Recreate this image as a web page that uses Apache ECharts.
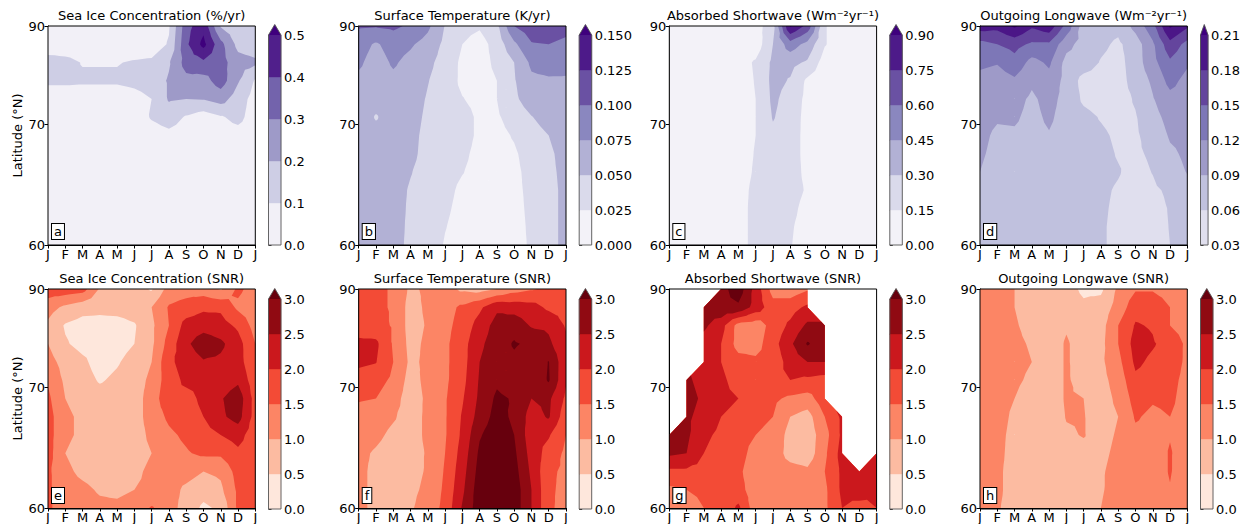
<!DOCTYPE html>
<html><head><meta charset="utf-8">
<script src="https://cdn.jsdelivr.net/npm/echarts@6/dist/echarts.min.js"></script>
<style>html,body{margin:0;padding:0;background:#fff}#c{width:1243px;height:524px}</style>
</head><body><div id="c"></div>
<script>
// ---------------- data ----------------
const MONTHS = ['J','F','M','A','M','J','J','A','S','O','N','D','J'];
// grid row latitudes, top (90N) to bottom (60N)
const LATS = [90, 81.43, 77.87, 75.13, 72.8, 70.78, 68.9, 67.2, 65.6, 64.1, 62.67, 61.31, 60];
const YTICKS = [60, 70, 90];

const TITLES = ['Sea Ice Concentration (%/yr)','Surface Temperature (K/yr)','Absorbed Shortwave (Wm\u207B\u00B2yr\u207B\u00B9)','Outgoing Longwave (Wm\u207B\u00B2yr\u207B\u00B9)',
  'Sea Ice Concentration (SNR)','Surface Temperature (SNR)','Absorbed Shortwave (SNR)','Outgoing Longwave (SNR)'];
const LETTERS = ['a','b','c','d','e','f','g','h'];

const LEVELS_SIC = [0,0.1,0.2,0.3,0.4,0.5];
const LEVELS_ST = [0,0.025,0.05,0.075,0.1,0.125,0.15];
const LEVELS_ASW = [0,0.15,0.3,0.45,0.6,0.75,0.9];
const LEVELS_OLR = [0.03,0.06,0.09,0.12,0.15,0.18,0.21];
const LEVELS_SNR = [0,0.5,1.0,1.5,2.0,2.5,3.0];

const SIC_TREND = [
[0.03,0.03,0.03,0.03,0.03,0.03,0.04,0.09,0.36,0.47,0.19,0.13,0.12],
[0.03,0.04,0.04,0.04,0.04,0.04,0.04,0.11,0.38,0.53,0.33,0.17,0.14],
[0.15,0.13,0.095,0.095,0.095,0.11,0.12,0.19,0.34,0.38,0.34,0.24,0.22],
[0.12,0.12,0.115,0.115,0.115,0.13,0.15,0.21,0.27,0.26,0.35,0.21,0.09],
[0.04,0.04,0.04,0.04,0.04,0.06,0.10,0.21,0.20,0.205,0.24,0.15,0.06],
[0.03,0.03,0.03,0.03,0.03,0.04,0.11,0.15,0.09,0.05,0.09,0.13,0.05],
[0.02,0.02,0.02,0.02,0.02,0.03,0.05,0.07,0.05,0.04,0.05,0.06,0.04],
[0.02,0.02,0.02,0.02,0.02,0.02,0.02,0.02,0.02,0.02,0.02,0.02,0.02],
[0.02,0.02,0.02,0.02,0.02,0.02,0.02,0.02,0.02,0.02,0.02,0.02,0.02],
[0.02,0.02,0.02,0.02,0.02,0.02,0.02,0.02,0.02,0.02,0.02,0.02,0.02],
[0.02,0.02,0.02,0.02,0.02,0.02,0.02,0.02,0.02,0.02,0.02,0.02,0.02],
[0.02,0.02,0.02,0.02,0.02,0.02,0.02,0.02,0.02,0.02,0.02,0.02,0.02],
[0.02,0.02,0.02,0.02,0.02,0.02,0.02,0.02,0.02,0.02,0.02,0.02,0.02]];

const ST_TREND = [
[0.103,0.102,0.105,0.096,0.08,0.049,0.032,0.028,0.045,0.1,0.115,0.12,0.112],
[0.085,0.072,0.085,0.078,0.066,0.044,0.025,0.015,0.035,0.07,0.098,0.1,0.092],
[0.079,0.065,0.078,0.068,0.056,0.04,0.02,0.016,0.03,0.05,0.08,0.085,0.083],
[0.07,0.063,0.07,0.064,0.051,0.038,0.02,0.016,0.025,0.048,0.07,0.072,0.072],
[0.065,0.06,0.062,0.06,0.048,0.036,0.026,0.018,0.025,0.045,0.063,0.066,0.066],
[0.065,0.048,0.062,0.058,0.046,0.036,0.035,0.02,0.022,0.035,0.049,0.06,0.064],
[0.065,0.058,0.06,0.056,0.044,0.036,0.035,0.02,0.018,0.027,0.04,0.05,0.062],
[0.065,0.06,0.06,0.055,0.043,0.035,0.03,0.018,0.016,0.022,0.035,0.046,0.058],
[0.065,0.06,0.06,0.051,0.042,0.034,0.026,0.017,0.015,0.02,0.032,0.045,0.056],
[0.065,0.06,0.058,0.048,0.041,0.032,0.02,0.016,0.015,0.02,0.03,0.044,0.055],
[0.065,0.06,0.058,0.047,0.04,0.029,0.018,0.015,0.015,0.018,0.03,0.044,0.055],
[0.065,0.06,0.058,0.046,0.04,0.026,0.016,0.015,0.015,0.017,0.029,0.044,0.055],
[0.065,0.06,0.058,0.045,0.04,0.023,0.015,0.015,0.015,0.017,0.028,0.044,0.055]];

const ASW_TREND = [
[0.04,0.04,0.04,0.04,0.05,0.08,0.25,0.92,0.70,0.16,0.07,0.05,0.04],
[0.04,0.04,0.04,0.04,0.05,0.06,0.30,0.53,0.40,0.16,0.07,0.05,0.04],
[0.04,0.04,0.04,0.04,0.08,0.17,0.33,0.34,0.28,0.08,0.06,0.05,0.04],
[0.04,0.04,0.04,0.05,0.07,0.16,0.34,0.29,0.12,0.06,0.05,0.05,0.04],
[0.04,0.04,0.04,0.05,0.07,0.15,0.33,0.24,0.11,0.06,0.05,0.05,0.04],
[0.04,0.04,0.04,0.05,0.07,0.15,0.31,0.23,0.10,0.06,0.05,0.05,0.04],
[0.04,0.04,0.04,0.05,0.08,0.15,0.27,0.22,0.10,0.06,0.05,0.05,0.04],
[0.04,0.04,0.04,0.05,0.08,0.16,0.25,0.22,0.10,0.06,0.05,0.05,0.04],
[0.04,0.04,0.04,0.05,0.08,0.17,0.24,0.22,0.11,0.06,0.05,0.05,0.04],
[0.04,0.04,0.04,0.05,0.09,0.19,0.24,0.22,0.13,0.06,0.05,0.05,0.04],
[0.04,0.04,0.04,0.05,0.09,0.20,0.23,0.20,0.09,0.06,0.05,0.05,0.04],
[0.04,0.04,0.04,0.05,0.09,0.20,0.22,0.17,0.08,0.06,0.05,0.05,0.04],
[0.04,0.04,0.04,0.05,0.09,0.20,0.21,0.16,0.07,0.06,0.05,0.05,0.04]];

const OLR_TREND = [
[0.195,0.19,0.215,0.185,0.20,0.14,0.075,0.072,0.068,0.10,0.14,0.215,0.185],
[0.14,0.15,0.16,0.145,0.145,0.10,0.078,0.066,0.055,0.075,0.115,0.17,0.14],
[0.127,0.122,0.14,0.11,0.125,0.08,0.075,0.058,0.05,0.075,0.11,0.145,0.125],
[0.11,0.105,0.115,0.095,0.11,0.08,0.05,0.048,0.048,0.072,0.095,0.13,0.11],
[0.105,0.10,0.10,0.085,0.10,0.08,0.055,0.048,0.048,0.063,0.088,0.11,0.105],
[0.10,0.093,0.094,0.082,0.095,0.078,0.068,0.058,0.05,0.058,0.08,0.10,0.10],
[0.097,0.085,0.086,0.08,0.088,0.076,0.07,0.065,0.055,0.056,0.072,0.093,0.098],
[0.094,0.082,0.08,0.077,0.08,0.075,0.072,0.068,0.058,0.055,0.065,0.085,0.095],
[0.09,0.078,0.078,0.077,0.08,0.075,0.072,0.068,0.062,0.05,0.061,0.08,0.091],
[0.085,0.078,0.078,0.077,0.078,0.075,0.07,0.065,0.057,0.05,0.055,0.065,0.085],
[0.082,0.078,0.078,0.077,0.078,0.075,0.07,0.064,0.055,0.05,0.05,0.062,0.08],
[0.08,0.078,0.078,0.077,0.078,0.075,0.07,0.063,0.054,0.05,0.05,0.061,0.078],
[0.08,0.078,0.078,0.077,0.078,0.075,0.07,0.063,0.054,0.05,0.05,0.06,0.077]];

const SIC_SNR = [
[1.8,1.8,1.7,0.95,0.8,0.7,0.45,1.2,1.3,1.25,0.95,1.6,1.3],
[1.2,0.9,0.7,0.65,0.7,0.75,1.0,1.55,1.7,1.9,1.9,1.4,1.2],
[0.9,0.45,0.3,0.3,0.3,0.45,0.9,1.5,2.2,2.3,2.2,1.9,1.3],
[1.0,0.55,0.35,0.3,0.3,0.5,0.9,1.7,2.4,2.8,2.6,2.2,1.5],
[1.2,0.8,0.6,0.3,0.45,0.7,1.0,1.9,2.2,2.45,2.4,2.2,1.6],
[1.45,0.9,0.7,0.45,0.6,0.8,1.1,1.8,2.1,2.1,2.2,2.4,1.7],
[1.6,1.0,0.8,0.7,0.75,0.8,1.2,1.9,1.85,2.1,2.45,2.8,1.8],
[1.7,1.1,0.9,0.7,0.6,0.8,1.2,1.6,1.8,2.0,2.4,2.7,1.8],
[1.7,1.1,0.9,0.7,0.6,0.8,1.1,1.4,1.6,1.8,2.0,2.2,1.7],
[1.7,1.0,0.8,0.8,0.9,0.8,1.0,1.3,1.45,1.6,1.6,1.9,1.7],
[1.6,1.1,0.9,0.8,0.8,0.9,1.1,1.2,1.2,1.0,1.1,1.7,1.7],
[1.6,1.2,1.1,0.95,0.9,1.0,1.1,1.2,0.9,0.7,0.9,1.6,1.7],
[1.6,1.2,1.2,1.1,1.1,1.2,1.55,1.2,0.8,0.4,0.6,1.6,1.9]];

const ST_SNR = [
[1.6,1.6,1.45,0.9,1.1,1.2,0.9,0.8,1.0,1.3,1.45,1.6,1.7],
[1.7,1.6,1.45,0.8,1.1,1.3,1.6,1.9,2.4,2.3,2.2,1.9,1.8],
[1.8,1.7,1.45,0.8,1.05,1.35,1.7,2.2,2.7,2.8,2.45,2.4,1.95],
[2.1,2.1,1.45,0.85,1.1,1.4,1.8,2.4,2.75,3.05,2.9,2.6,2.1],
[2.1,2.02,1.5,0.9,1.1,1.4,1.8,2.5,2.8,2.9,2.7,3.02,2.1],
[1.8,1.7,1.4,0.8,1.15,1.4,1.85,2.55,2.9,2.7,2.6,3.05,2.05],
[1.55,1.5,1.2,0.75,1.1,1.45,1.95,2.6,3.1,2.95,2.5,2.6,1.9],
[1.3,1.2,1.05,0.8,1.1,1.45,2.05,2.7,3.2,2.9,2.3,2.55,1.7],
[1.2,1.1,0.9,0.8,1.1,1.45,2.1,2.95,3.3,3.0,2.2,2.05,1.5],
[1.1,0.95,0.8,0.8,1.05,1.5,2.2,3.1,3.4,3.1,2.3,1.8,1.4],
[1.1,0.9,0.8,0.85,1.05,1.55,2.3,3.2,3.5,3.2,2.4,1.6,1.4],
[1.1,0.9,0.8,0.9,1.1,1.6,2.4,3.3,3.5,3.3,2.5,1.6,1.35],
[1.1,0.9,0.8,0.95,1.2,1.65,2.55,3.3,3.5,3.3,2.5,1.6,1.3]];

const ASW_SNR = [
[null,null,null,2.8,3.3,2.3,1.3,1.2,1.45,null,null,null,null],
[null,null,2.7,2.9,2.9,2.3,1.7,1.8,2.1,null,null,null,null],
[null,null,2.6,2.2,1.3,1.2,1.7,2.1,2.6,2.6,null,null,null],
[null,null,2.3,2.0,1.3,1.3,1.8,2.4,3.05,2.7,null,null,null],
[null,null,2.2,2.0,1.7,1.6,1.7,2.2,2.5,2.5,null,null,null],
[null,2.6,2.3,2.1,1.8,1.7,1.9,2.0,1.9,1.8,null,null,null],
[null,2.7,2.4,2.1,2.0,1.7,1.6,1.4,1.3,1.8,null,null,null],
[null,2.6,2.3,2.0,1.9,1.6,1.5,1.0,0.8,1.5,2.1,null,null],
[2.6,2.6,2.1,1.9,1.7,1.5,1.4,0.8,0.7,1.3,2.1,null,null],
[2.6,2.5,2.0,1.8,1.7,1.3,1.3,0.8,0.7,1.4,2.2,null,2.0],
[1.9,1.9,1.8,1.7,1.6,1.2,1.3,1.2,1.1,1.5,2.1,2.2,2.1],
[1.4,1.5,1.6,1.6,1.7,1.2,1.2,1.2,1.2,1.4,2.1,2.3,2.0],
[1.4,1.3,1.5,1.6,2.1,1.2,1.2,1.2,1.2,1.4,2.0,1.8,2.0]];

const OLR_SNR = [
[1.2,1.2,1.0,0.8,0.7,0.7,0.4,0.4,1.1,1.45,1.45,1.3,1.2],
[1.2,1.2,1.0,0.8,0.75,0.75,0.6,0.7,1.2,1.8,1.8,1.5,1.25],
[1.2,1.2,1.05,0.85,0.75,0.95,0.75,0.8,1.5,2.05,1.95,1.5,1.3],
[1.2,1.2,1.1,0.95,0.75,1.05,0.8,0.85,1.5,2.2,2.05,1.8,1.4],
[1.2,1.2,1.15,1.0,0.75,1.05,0.8,0.9,1.35,2.1,1.9,1.75,1.4],
[1.2,1.2,1.1,0.9,0.75,1.05,0.85,0.85,1.2,1.9,1.8,1.65,1.35],
[1.2,1.2,1.0,0.75,0.75,1.05,1.0,0.8,1.1,1.7,1.55,1.6,1.3],
[1.2,1.2,0.9,0.75,0.75,1.02,1.02,0.8,1.0,1.55,1.4,1.5,1.3],
[1.2,1.15,0.85,0.75,0.75,0.95,1.02,0.85,1.05,1.4,1.35,1.48,1.3],
[1.2,1.15,0.8,0.75,0.75,0.85,0.9,0.9,1.1,1.3,1.3,1.53,1.3],
[1.2,1.1,0.8,0.75,0.75,0.75,0.8,0.95,1.15,1.25,1.3,1.53,1.25],
[1.2,1.1,0.8,0.75,0.75,0.75,0.75,0.95,1.2,1.2,1.3,1.48,1.2],
[1.2,1.05,0.8,0.75,0.75,0.75,0.75,1.0,1.25,1.2,1.3,1.4,1.2]];

// ---------------- styling ----------------
const PURPLES = ['#fcfbfd','#efedf5','#dadaeb','#bcbddc','#9e9ac8','#807dba','#6a51a3','#54278f','#3f007d'];
const REDS = ['#fff5f0','#fee0d2','#fcbba1','#fc9272','#fb6a4a','#ef3b2c','#cb181d','#a50f15','#67000d'];
const FONT = '"DejaVu Sans", sans-serif';

function hexRgb(h){return [parseInt(h.slice(1,3),16),parseInt(h.slice(3,5),16),parseInt(h.slice(5,7),16)];}
function cmap(list,t){
  t=Math.max(0,Math.min(1,t));
  const x=t*(list.length-1); const i=Math.min(Math.floor(x),list.length-2); const f=x-i;
  const a=hexRgb(list[i]), b=hexRgb(list[i+1]);
  return 'rgb('+[0,1,2].map(j=>Math.round(a[j]+(b[j]-a[j])*f)).join(',')+')';
}
function bandColors(cm, levels, vmin){
  const vmax=levels[levels.length-1]; const out=[];
  for(let k=0;k<levels.length-1;k++){const mid=(levels[k]+levels[k+1])/2; out.push(cmap(cm,(mid-vmin)/(vmax-vmin)));}
  out.push(cmap(cm,1)); return out;
}

const PANELS = [
  {data:SIC_TREND, levels:LEVELS_SIC, cm:PURPLES, vmin:0, dec:1},
  {data:ST_TREND, levels:LEVELS_ST, cm:PURPLES, vmin:0, dec:3},
  {data:ASW_TREND, levels:LEVELS_ASW, cm:PURPLES, vmin:0, dec:2},
  {data:OLR_TREND, levels:LEVELS_OLR, cm:PURPLES, vmin:0, dec:2},
  {data:SIC_SNR, levels:LEVELS_SNR, cm:REDS, vmin:0, dec:1},
  {data:ST_SNR, levels:LEVELS_SNR, cm:REDS, vmin:0, dec:1},
  {data:ASW_SNR, levels:LEVELS_SNR, cm:REDS, vmin:0, dec:1},
  {data:OLR_SNR, levels:LEVELS_SNR, cm:REDS, vmin:0, dec:1}
];
PANELS.forEach(p=>{p.colors=bandColors(p.cm,p.levels,p.vmin);});

// layout (pixels)
const COL_LEFT=[48,358.7,669.3,980], PLOT_W=207.3;
const ROW_TOP=[26,289], PLOT_H=[219,220];
const TITLE_Y=[9,272];
const CB_TOP=[35,299], CB_H=[210,210], CB_TIP=10.5, CB_DX=220.5, CB_W=12.5;

const toY = lat => Math.sin(lat*Math.PI/180);

function clipPoly(poly,L){
  const out=[];
  for(let i=0;i<poly.length;i++){
    const a=poly[i], b=poly[(i+1)%poly.length];
    const ina=a[2]>=L, inb=b[2]>=L;
    if(ina) out.push(a);
    if(ina!==inb){const t=(L-a[2])/(b[2]-a[2]); out.push([a[0]+t*(b[0]-a[0]),a[1]+t*(b[1]-a[1]),L]);}
  }
  return out;
}

// filled contours: triangulated grid, each band = one compound path (union, no seams)
function contourGroup(api,p){
  const g=p.data, levels=p.levels, colors=p.colors;
  const pts=g.map((row,r)=>row.map((v,c)=>{ if(v===null) return null; const q=api.coord([c,toY(LATS[r])]); return [q[0],q[1],v]; }));
  const paths=levels.map(()=>[]);
  for(let r=0;r<g.length-1;r++){
    for(let c=0;c<g[0].length-1;c++){
      const q=[pts[r][c],pts[r][c+1],pts[r+1][c+1],pts[r+1][c]];
      const valid=q.filter(Boolean);
      const tris=[];
      if(valid.length===4){
        const m=[0,1,2].map(j=>(q[0][j]+q[1][j]+q[2][j]+q[3][j])/4);
        for(let i=0;i<4;i++) tris.push([q[i],q[(i+1)%4],m]);
      } else if(valid.length===3){ tris.push(valid); }
      for(const t of tris){
        for(let k=0;k<levels.length;k++){
          const poly=clipPoly(t,levels[k]);
          if(poly.length<3) break;
          paths[k].push('M'+poly.map(a=>a[0].toFixed(2)+' '+a[1].toFixed(2)).join('L')+'Z');
        }
      }
    }
  }
  const children=[];
  paths.forEach((pa,k)=>{ if(pa.length) children.push({type:'path',shape:{pathData:pa.join('')},style:{fill:colors[k]}}); });
  return {type:'group',children};
}

function colorbarGroup(api,p){
  const L=p.levels, n=L.length, ch=[];
  for(let k=0;k<n-1;k++){
    const a=api.coord([0,L[k]]), b=api.coord([1,L[k+1]]);
    ch.push({type:'rect',shape:{x:a[0],y:b[1],width:b[0]-a[0],height:a[1]-b[1]},style:{fill:p.colors[k],stroke:p.colors[k],lineWidth:0.4}});
  }
  const bl=api.coord([0,L[0]]), tr=api.coord([1,L[n-1]]);
  const tipY=tr[1]-CB_TIP, cx=(bl[0]+tr[0])/2;
  ch.push({type:'polygon',shape:{points:[[bl[0],tr[1]],[tr[0],tr[1]],[cx,tipY]]},style:{fill:p.colors[n-1]}});
  ch.push({type:'polygon',shape:{points:[[bl[0],bl[1]],[tr[0],bl[1]],[tr[0],tr[1]],[cx,tipY],[bl[0],tr[1]]]},style:{fill:null,stroke:'#555',lineWidth:0.9}});
  return {type:'group',children:ch};
}

const grids=[], xAxes=[], yAxes=[], series=[], graphics=[];
PANELS.forEach((p,i)=>{
  const row=Math.floor(i/4), col=i%4;
  const left=COL_LEFT[col], top=ROW_TOP[row], h=PLOT_H[row];
  grids.push({left:left,top:top,width:PLOT_W,height:h,containLabel:false});
  xAxes.push({gridIndex:i,type:'value',min:0,max:12,interval:1,
    axisLine:{show:true,onZero:false,lineStyle:{color:'#000',width:1}},
    axisTick:{show:true,length:3.5,lineStyle:{color:'#000'}},
    axisLabel:{formatter:v=>MONTHS[Math.round(v)],fontSize:13,color:'#000',margin:3,fontFamily:FONT,showMinLabel:true,showMaxLabel:true},
    splitLine:{show:false}});
  const yv=YTICKS.map(toY);
  const ya={gridIndex:i,type:'value',min:toY(60),max:1,
    axisLine:{show:true,onZero:false,lineStyle:{color:'#000',width:1}},
    axisTick:{show:true,length:3.5,lineStyle:{color:'#000'},customValues:yv},
    axisLabel:{customValues:yv,formatter:v=>String(Math.round(Math.asin(Math.min(1,v))*180/Math.PI)),fontSize:13,color:'#000',margin:3,fontFamily:FONT},
    splitLine:{show:false}};
  if(col===0){ ya.name='Latitude (\u00B0N)'; ya.nameLocation='middle'; ya.nameGap=24; ya.nameTextStyle={fontSize:13,color:'#000',fontFamily:FONT}; }
  yAxes.push(ya);
  series.push({type:'custom',coordinateSystem:'cartesian2d',xAxisIndex:i,yAxisIndex:i,data:[[6,0.93]],silent:true,animation:false,clip:true,
    renderItem:(params,api)=>contourGroup(api,p)});
  graphics.push({type:'rect',silent:true,z:100,shape:{x:left,y:top,width:PLOT_W,height:h},style:{fill:null,stroke:'#000',lineWidth:1}});
  graphics.push({type:'text',silent:true,z:100,x:left+PLOT_W/2,y:TITLE_Y[row],style:{text:TITLES[i],font:'13px '+FONT,fill:'#000',textAlign:'center',textVerticalAlign:'top'}});
  graphics.push({type:'text',silent:true,z:101,x:left+4,y:top+h-21,style:{text:LETTERS[i],font:'13px '+FONT,fill:'#000',backgroundColor:'#fff',borderColor:'#000',borderWidth:1,padding:[1,2,1,2]}});
});
PANELS.forEach((p,i)=>{
  const row=Math.floor(i/4), col=i%4;
  const gi=8+i;
  grids.push({left:COL_LEFT[col]+CB_DX,top:CB_TOP[row],width:CB_W,height:CB_H[row],containLabel:false});
  xAxes.push({gridIndex:gi,type:'value',min:0,max:1,show:false});
  yAxes.push({gridIndex:gi,type:'value',position:'right',min:p.levels[0],max:p.levels[p.levels.length-1],
    axisLine:{show:false},
    axisTick:{show:true,length:3,lineStyle:{color:'#000'},customValues:p.levels},
    axisLabel:{customValues:p.levels,formatter:v=>v.toFixed(p.dec),fontSize:13,color:'#000',margin:3,fontFamily:FONT},
    splitLine:{show:false}});
  series.push({type:'custom',coordinateSystem:'cartesian2d',xAxisIndex:gi,yAxisIndex:gi,data:[[0.5,p.levels[0]]],silent:true,animation:false,clip:false,
    renderItem:(params,api)=>colorbarGroup(api,p)});
});

const chart=echarts.init(document.getElementById('c'),null,{renderer:'svg'});
chart.setOption({animation:false,textStyle:{fontFamily:FONT},grid:grids,xAxis:xAxes,yAxis:yAxes,series:series,graphic:graphics});
</script></body></html>
